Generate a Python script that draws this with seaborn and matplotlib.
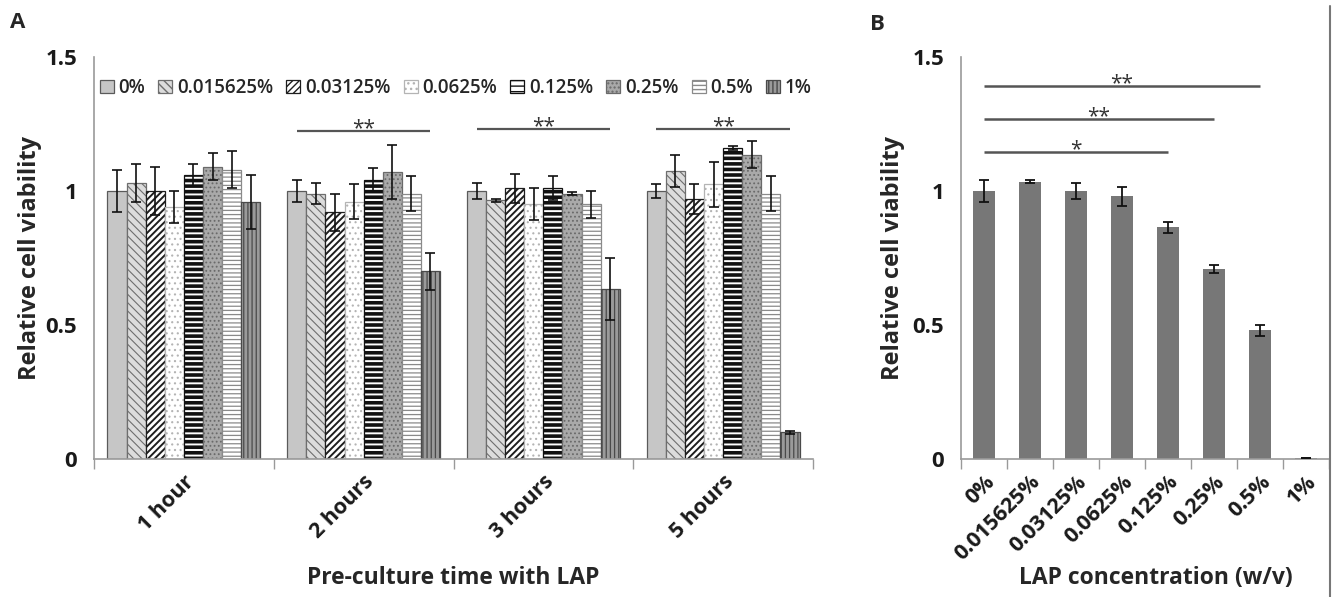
import numpy as np
import pandas as pd
import matplotlib
matplotlib.use("Agg")
import matplotlib.pyplot as plt
import seaborn as sns
from matplotlib.lines import Line2D

# ---------------- data ----------------
times = ["1 hour", "2 hours", "3 hours", "5 hours"]
concentrations = ["0%", "0.015625%", "0.03125%", "0.0625%", "0.125%", "0.25%", "0.5%", "1%"]

mean_1h = [1.00, 1.03, 1.00, 0.94, 1.06, 1.09, 1.08, 0.96]
err_1h = [0.08, 0.07, 0.09, 0.06, 0.04, 0.05, 0.07, 0.10]
mean_2h = [1.00, 0.99, 0.92, 0.96, 1.04, 1.07, 0.99, 0.70]
err_2h = [0.04, 0.04, 0.07, 0.065, 0.045, 0.10, 0.065, 0.07]
mean_3h = [1.00, 0.965, 1.01, 0.95, 1.01, 0.99, 0.95, 0.635]
err_3h = [0.03, 0.005, 0.055, 0.06, 0.045, 0.005, 0.05, 0.115]
mean_5h = [1.00, 1.075, 0.97, 1.025, 1.16, 1.135, 0.99, 0.10]
err_5h = [0.025, 0.06, 0.055, 0.085, 0.007, 0.05, 0.065, 0.005]

sig_a_times = ["2 hours", "3 hours", "5 hours"]
sig_a_labels = ["**", "**", "**"]
sig_a_y = [1.225, 1.232, 1.232]

mean_b = [1.00, 1.035, 1.00, 0.98, 0.865, 0.71, 0.48, 0.005]
err_b = [0.04, 0.005, 0.03, 0.035, 0.02, 0.015, 0.02, 0.0]
sig_b_end = ["0.5%", "0.25%", "0.125%"]
sig_b_labels = ["**", "**", "*"]
sig_b_y = [1.393, 1.268, 1.145]

# ---------------- styles ----------------
FONT = ["Open Sans", "DejaVu Sans"]
sns.set_style("white")
plt.rcParams["font.family"] = FONT
plt.rcParams["hatch.linewidth"] = 1.0

styles = {
    "0%":        dict(fc="#c6c6c6", ec="#5a5a5a", hatch=None, hlw=1.0),
    "0.015625%": dict(fc="#dcdcdc", ec="#6e6e6e", hatch="\\\\\\\\", hlw=0.8),
    "0.03125%":  dict(fc="#ffffff", ec="#1e1e1e", hatch="/////", hlw=1.4),
    "0.0625%":   dict(fc="#ffffff", ec="#b4b4b4", hatch="...", hlw=0.8),
    "0.125%":    dict(fc="#ffffff", ec="#111111", hatch="---", hlw=2.6),
    "0.25%":     dict(fc="#a9a9a9", ec="#6a6a6a", hatch="....", hlw=0.8),
    "0.5%":      dict(fc="#ffffff", ec="#8a8a8a", hatch="----", hlw=0.9),
    "1%":        dict(fc="#9a9a9a", ec="#4a4a4a", hatch="||||", hlw=0.9),
}

AXC = "#9a9a9a"
TICK_FS = 16
XTICK_FS = 15.5
YLAB_FS = 17
XLAB_FS = 16.5

fig = plt.figure(figsize=(13.37, 5.97), dpi=100)
axA = fig.add_axes([94 / 1337, 1 - 459 / 597, (813 - 94) / 1337, (459 - 57) / 597])
axB = fig.add_axes([961 / 1337, 1 - 459 / 597, (1329 - 961) / 1337, (459 - 57) / 597])

# ---------------- panel A ----------------
means_by_time = [mean_1h, mean_2h, mean_3h, mean_5h]
errs_by_time = [err_1h, err_2h, err_3h, err_5h]
rows = []
for t, ms, es in zip(times, means_by_time, errs_by_time):
    for c, m, e in zip(concentrations, ms, es):
        rows.append(dict(time=t, conc=c, value=m, err=e))
dfA = pd.DataFrame(rows)

sns.barplot(data=dfA, x="time", y="value", hue="conc", order=times,
            hue_order=concentrations, errorbar=None, width=0.85,
            palette=["#cccccc"] * len(concentrations), ax=axA, legend=False)
bar_containers = list(axA.containers)

handles = []
for j, (c, cont) in enumerate(zip(concentrations, bar_containers)):
    st = styles[c]
    xs, ys, es = [], [], []
    for i, bar in enumerate(cont):
        bar.set_facecolor(st["fc"])
        bar.set_edgecolor(st["ec"])
        bar.set_linewidth(0.9)
        if st["hatch"]:
            bar.set_hatch(st["hatch"])
        try:
            bar.set_hatch_linewidth(st["hlw"])
        except Exception:
            pass
        xs.append(bar.get_x() + bar.get_width() / 2)
        ys.append(bar.get_height())
        es.append(errs_by_time[i][j])
    axA.errorbar(xs, ys, yerr=es, fmt="none", ecolor="#111111",
                 elinewidth=1.2, capsize=3.5, capthick=1.2, zorder=5)
    handles.append(cont[0])

# significance A
for t, lab, yv in zip(sig_a_times, sig_a_labels, sig_a_y):
    i = times.index(t)
    b0 = bar_containers[0][i]
    b1 = bar_containers[-1][i]
    x0 = b0.get_x() + b0.get_width() / 2
    x1 = b1.get_x() + b1.get_width() / 2
    axA.plot([x0, x1], [yv, yv], color="#555555", lw=1.6, solid_capstyle="butt")
    axA.text((x0 + x1) / 2, yv - 0.012, lab, ha="center", va="baseline",
             fontsize=15, color="#333333", family=FONT)

axA.set_ylim(0, 1.5)
axA.set_xlim(-0.5, len(times) - 0.5)
axA.set_yticks([0, 0.5, 1, 1.5])
axA.set_yticklabels(["0", "0.5", "1", "1.5"])
axA.set_xticks(range(len(times)))
axA.set_xticklabels(times, rotation=45, ha="right", rotation_mode="anchor")
axA.set_xticks(np.arange(-0.5, len(times), 1.0), minor=True)

leg = axA.legend(handles=handles, labels=concentrations, ncol=8, loc="center left",
                 bbox_to_anchor=(0.008, 0.923), frameon=False, handlelength=0.75,
                 handleheight=0.75, handletextpad=0.25, columnspacing=0.7,
                 borderaxespad=0.0, borderpad=0.0,
                 prop=dict(family=FONT, size=13.5, weight="semibold"))

axA.set_ylabel("Relative cell viability", fontsize=YLAB_FS, fontweight="bold")
axA.set_xlabel("Pre-culture time with LAP", fontsize=XLAB_FS, fontweight="bold")
axA.yaxis.set_label_coords((30 - 94) / 719, 0.5)
axA.xaxis.set_label_coords(0.5, (459 - 578) / 402)
axA.xaxis.label.set_va("center")
axA.yaxis.label.set_va("center")

# ---------------- panel B ----------------
dfB = pd.DataFrame(dict(conc=concentrations, value=mean_b, err=err_b))
sns.barplot(data=dfB, x="conc", y="value", order=concentrations, color="#777777",
            errorbar=None, width=0.48, ax=axB, saturation=1)
b_bars = list(axB.containers[0])
bx = []
for bar in b_bars:
    bar.set_edgecolor("none")
    bx.append(bar.get_x() + bar.get_width() / 2)
axB.errorbar(bx, [b.get_height() for b in b_bars], yerr=err_b, fmt="none",
             ecolor="#111111", elinewidth=1.3, capsize=3.5, capthick=1.3, zorder=5)

for endc, lab, yv in zip(sig_b_end, sig_b_labels, sig_b_y):
    x0 = bx[0]
    x1 = bx[concentrations.index(endc)]
    axB.plot([x0, x1], [yv, yv], color="#555555", lw=1.8, solid_capstyle="butt")
    axB.text((x0 + x1) / 2, yv - 0.012, lab, ha="center", va="baseline",
             fontsize=15, color="#333333", family=FONT)

axB.set_ylim(0, 1.5)
axB.set_xlim(-0.5, len(concentrations) - 0.5)
axB.set_yticks([0, 0.5, 1, 1.5])
axB.set_yticklabels(["0", "0.5", "1", "1.5"])
axB.set_xticks(range(len(concentrations)))
axB.set_xticklabels(concentrations, rotation=45, ha="right", rotation_mode="anchor")
axB.set_xticks(np.arange(-0.5, len(concentrations), 1.0), minor=True)
axB.set_ylabel("Relative cell viability", fontsize=YLAB_FS, fontweight="bold")
axB.set_xlabel("LAP concentration (w/v)", fontsize=XLAB_FS, fontweight="bold")
axB.yaxis.set_label_coords((893 - 961) / 368, 0.5)
axB.xaxis.set_label_coords((1156 - 961) / 368, (459 - 578) / 402)
axB.xaxis.label.set_va("center")
axB.yaxis.label.set_va("center")

# ---------------- common axes styling ----------------
for ax in (axA, axB):
    for s in ("top", "right"):
        ax.spines[s].set_visible(False)
    for s in ("left", "bottom"):
        ax.spines[s].set_color(AXC)
        ax.spines[s].set_linewidth(1.2)
    ax.tick_params(axis="y", which="major", direction="out", length=7, width=1.0,
                   color=AXC, labelsize=TICK_FS, pad=5)
    ax.tick_params(axis="x", which="major", length=0, labelsize=XTICK_FS, pad=9)
    ax.tick_params(axis="x", which="minor", direction="out", length=7, width=1.0,
                   color=AXC, bottom=True)
    for lab in ax.get_yticklabels() + ax.get_xticklabels():
        lab.set_fontweight("bold")
        lab.set_color("#1a1a1a")
    ax.set_facecolor("white")

fig.text(18 / 1337, 1 - 23 / 597, "A", fontsize=16, fontweight="bold", va="center", ha="center")
fig.text(877 / 1337, 1 - 24 / 597, "B", fontsize=16, fontweight="bold", va="center", ha="center")
fig.add_artist(Line2D([1330 / 1337, 1330 / 1337], [0, 1 - 6 / 597], color="#777777", lw=1.5))

fig.savefig("out.png", dpi=100, facecolor="white")
